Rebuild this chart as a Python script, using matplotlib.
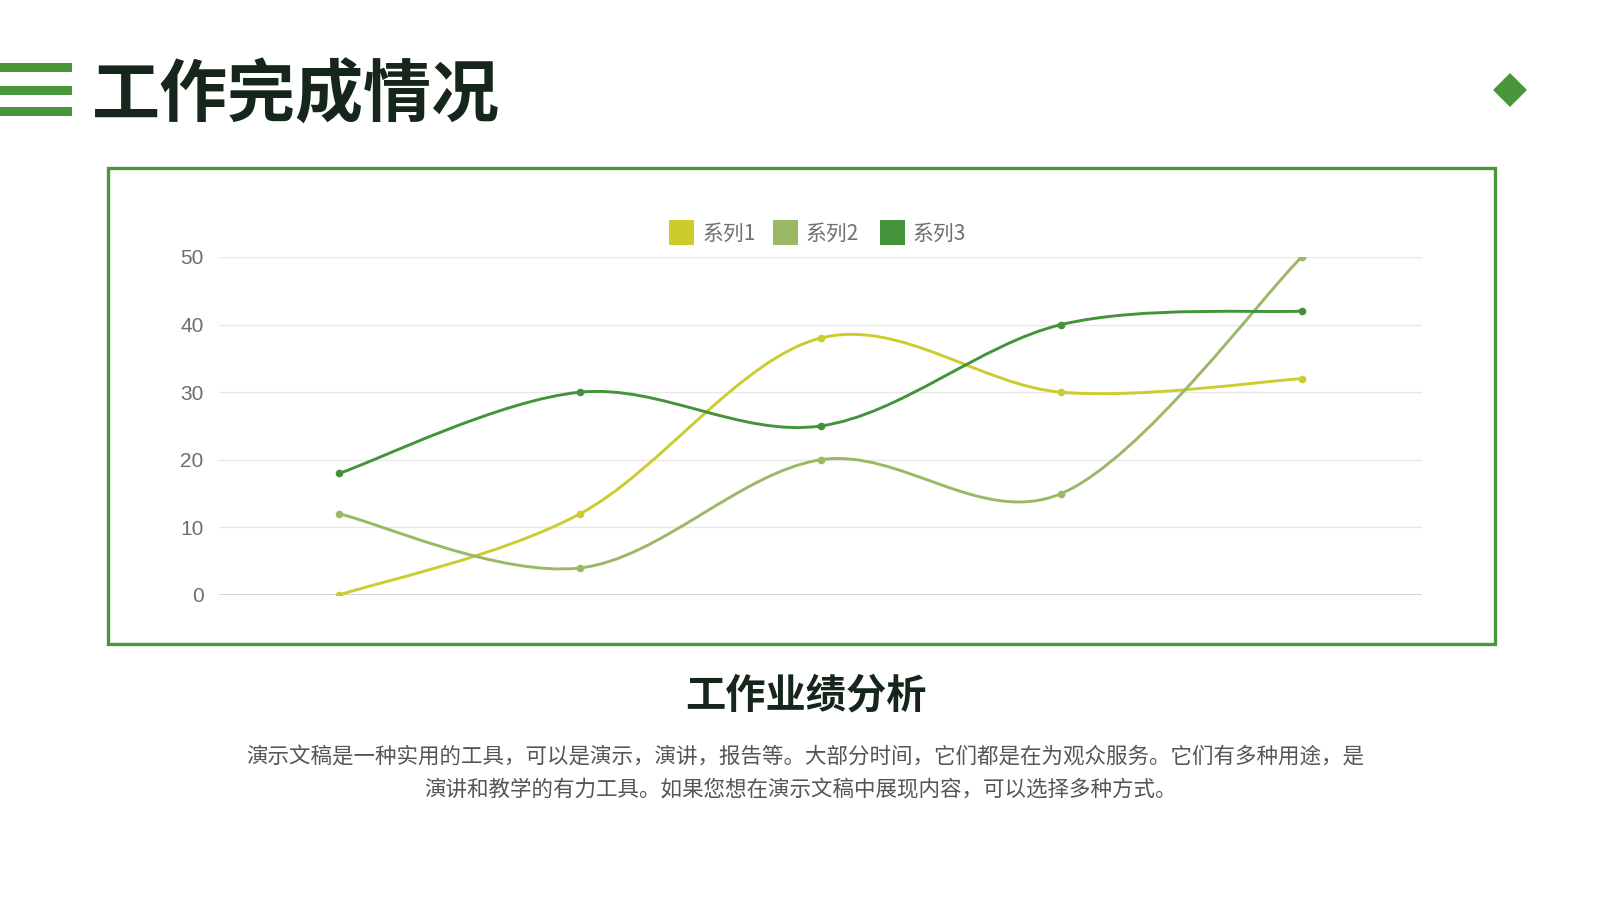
import matplotlib
matplotlib.use("Agg")
import matplotlib.pyplot as plt
from matplotlib.path import Path
from matplotlib.patches import PathPatch, Rectangle, Polygon

plt.rcParams['font.family'] = ['Noto Sans CJK SC', 'DejaVu Sans']

# ---------------- data ----------------
categories = ["类别1", "类别2", "类别3", "类别4", "类别5"]
series_names = ["系列1", "系列2", "系列3"]
series1 = [0, 12, 38, 30, 32]
series2 = [12, 4, 20, 15, 50]
series3 = [18, 30, 25, 40, 42]
y_ticks = [0, 10, 20, 30, 40, 50]

title_text = "工作完成情况"
subtitle_text = "工作业绩分析"
body_line1 = "演示文稿是一种实用的工具，可以是演示，演讲，报告等。大部分时间，它们都是在为观众服务。它们有多种用途，是"
body_line2 = "演讲和教学的有力工具。如果您想在演示文稿中展现内容，可以选择多种方式。"

colors = ["#cccc2f", "#9bb866", "#43933a"]
GREEN = "#4a963a"
DARK = "#16261a"

W, H = 1600, 900
fig = plt.figure(figsize=(16, 9), dpi=100)
fig.patch.set_facecolor("white")

def fx(px):
    return px / W

def fy(py):
    return 1 - py / H

# ---------------- header ----------------
for y0, y1 in [(63, 72), (86, 95), (107, 116)]:
    fig.add_artist(Rectangle((fx(0), fy(y1)), fx(72), (y1 - y0) / H,
                             transform=fig.transFigure, color=GREEN, lw=0))
fig.text(fx(92), fy(97), title_text, fontsize=49, fontweight="bold",
         color=DARK, ha="left", va="center")

cx, cy, r = 1510, 90, 17
fig.add_artist(Polygon([(fx(cx - r), fy(cy)), (fx(cx), fy(cy - r)),
                        (fx(cx + r), fy(cy)), (fx(cx), fy(cy + r))],
                       closed=True, transform=fig.transFigure,
                       color=GREEN, lw=0))

# ---------------- frame ----------------
fig.add_artist(Rectangle((fx(108), fy(644)), fx(1495 - 108), (644 - 168) / H,
                         transform=fig.transFigure, fill=False,
                         edgecolor=GREEN, lw=2.4))

# ---------------- chart ----------------
ax = fig.add_axes([fx(219), fy(595), fx(1422 - 219), (595 - 257) / H])
ax.set_xlim(-0.5, len(categories) - 0.5)
ax.set_ylim(0, 50)
for s in ax.spines.values():
    s.set_visible(False)
ax.set_xticks([])
ax.set_yticks(y_ticks)
ax.tick_params(axis="y", length=0, pad=11, labelsize=15, labelcolor="#6e6e6e")
for lab in ax.get_yticklabels():
    lab.set_fontfamily(["Liberation Sans", "DejaVu Sans"])
for t in y_ticks:
    ax.axhline(t, color="#d2d2d2" if t == 0 else "#e8e8e8",
               lw=1.3 if t == 0 else 1.0, zorder=1)


def smooth_path(xs, ys):
    n = len(xs)
    pts = list(zip(xs, ys))
    verts = [pts[0]]
    codes = [Path.MOVETO]
    for i in range(n - 1):
        p0 = pts[i - 1] if i > 0 else pts[i]
        p1 = pts[i]
        p2 = pts[i + 1]
        p3 = pts[i + 2] if i + 2 < n else pts[i + 1]
        c1 = (p1[0] + (p2[0] - p0[0]) / 6, p1[1] + (p2[1] - p0[1]) / 6)
        c2 = (p2[0] - (p3[0] - p1[0]) / 6, p2[1] - (p3[1] - p1[1]) / 6)
        verts += [c1, c2, p2]
        codes += [Path.CURVE4] * 3
    return Path(verts, codes)


xs = list(range(len(categories)))
for vals, col in zip([series1, series2, series3], colors):
    ax.add_patch(PathPatch(smooth_path(xs, vals), fill=False, edgecolor=col,
                           lw=2.1, zorder=3, capstyle="round"))
    ax.plot(xs, vals, linestyle="none", marker="o", markersize=4.5,
            color=col, zorder=4)

# ---------------- legend ----------------
leg_items = [(669, 703), (773, 806), (880, 913)]
for (sx, tx), name, col in zip(leg_items, series_names, colors):
    fig.add_artist(Rectangle((fx(sx), fy(245)), fx(25), 25 / H,
                             transform=fig.transFigure, color=col, lw=0))
    fig.text(fx(tx), fy(234), name, fontsize=15, color="#707070",
             ha="left", va="center")

# ---------------- bottom text ----------------
fig.text(fx(806), fy(696), subtitle_text, fontsize=29, fontweight="bold",
         color=DARK, ha="center", va="center")
fig.text(fx(805), fy(757), body_line1, fontsize=15.5, color="#555555",
         ha="center", va="center")
fig.text(fx(800), fy(790), body_line2, fontsize=15.5, color="#555555",
         ha="center", va="center")

fig.savefig("out.png", dpi=100, facecolor="white")
